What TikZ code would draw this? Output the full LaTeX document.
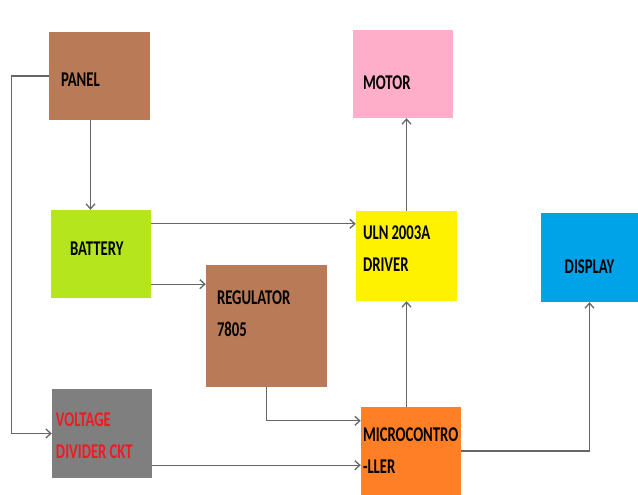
\documentclass[tikz,border=0pt]{standalone}
\usepackage{fontspec}
\setmainfont[FakeStretch=0.7]{Carlito}
\usepackage{tikz}
\usetikzlibrary{arrows.meta,positioning}
\definecolor{pbrown}{HTML}{B97A57}
\definecolor{plime}{HTML}{B5E61D}
\definecolor{pgray}{HTML}{7F7F7F}
\definecolor{ppink}{HTML}{FFAEC9}
\definecolor{pyellow}{HTML}{FFF200}
\definecolor{pblue}{HTML}{00A2E8}
\definecolor{porange}{HTML}{FF7F27}
\definecolor{pred}{HTML}{ED1C24}

\begin{document}
\begin{tikzpicture}[x=1pt, y=-1pt,
    every node/.style={font=\bfseries\fontsize{21}{32}\selectfont},
    blk/.style={inner sep=0pt, align=left},
    arr/.style={draw=black!60, line width=1.3pt, -{Straight Barb[length=5pt,width=9pt]}}]
    \useasboundingbox (0,0) rectangle (638,495);
    \node[blk, fill=pbrown, minimum width=101pt, minimum height=88pt, text width=77pt, text height=21.5pt] (panel) at (99.5,76) {PANEL};
    \node[blk, fill=plime, minimum width=100pt, minimum height=88pt, text width=62pt, text depth=10pt] (batt) at (101,254) {BATTERY};
    \node[blk, fill=pbrown, minimum width=121pt, minimum height=122pt, text width=99pt, text depth=56pt] (reg) at (266.5,326) {REGULATOR\\7805};
    \node[blk, fill=pgray, text=pred, minimum width=100pt, minimum height=89pt, text width=92pt, text height=18.5pt] (vdiv) at (102,433.5) {VOLTAGE\\DIVIDER\hspace{3pt}CKT};
    \node[blk, fill=ppink, minimum width=100pt, minimum height=88pt, text width=80pt, text height=31.5pt] (motor) at (403,74) {MOTOR};
    \node[blk, fill=pyellow, minimum width=101pt, minimum height=90pt, text width=87pt, text depth=46pt] (uln) at (406.5,256) {ULN\hspace{3pt}2003A\\DRIVER};
    \node[blk, fill=pblue, minimum width=97pt, minimum height=89pt, align=center, text height=31.5pt] (disp) at (589.5,257.5) {DISPLAY};
    \node[blk, fill=porange, minimum width=100pt, minimum height=88pt, text width=96pt] (micro) at (411,451) {MICROCONTRO\\-LLER};

    \coordinate (b1) at ([yshift=-14pt]batt.north east);
    \coordinate (b2) at ([yshift=14pt]batt.south east);
    \coordinate (m1) at ([yshift=-14pt]micro.north west);
    \coordinate (v1) at ([yshift=13pt]vdiv.south east);
    \coordinate (p1) at ([xshift=-9pt]panel.south);

    \draw[arr] (panel.west) -- ++(-37,0) |- (vdiv.west);
    \draw[arr] (p1) -- (p1 |- batt.north);
    \draw[arr] (b1) -- (b1 -| uln.west);
    \draw[arr] (b2) -- (b2 -| reg.west);
    \draw[arr] (reg.south) |- (m1);
    \draw[arr] (v1) -- (v1 -| micro.west);
    \draw[arr] (micro.north -| uln.south) -- (uln.south);
    \draw[arr] (uln.north) -- (uln.north |- motor.south);
    \draw[arr] (micro.east) -| (disp.south);
\end{tikzpicture}
\end{document}
